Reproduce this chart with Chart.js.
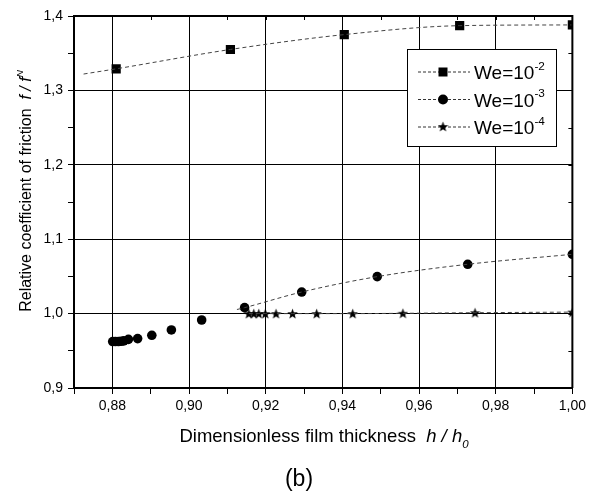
<!DOCTYPE html>
<html>
<head>
<meta charset="utf-8">
<script src="https://cdn.jsdelivr.net/npm/chart.js@4/dist/chart.umd.min.js"></script>
<style>
html, body { margin: 0; padding: 0; background: #fff; }
#wrap { position: relative; width: 590px; height: 493px; }
</style>
</head>
<body>
<div id="wrap"><canvas id="frictionChart" width="590" height="493"></canvas></div>
<script>
// We = 10^-2 : markers and the computed curve through them
const sqX = [0.881, 0.9108, 0.9405, 0.9706, 1.0];
const sqY = [1.329, 1.355, 1.375, 1.387, 1.388];
const sqCurveX = [0.8725, 0.881, 0.9108, 0.9405, 0.9706, 1.0];
const sqCurveY = [1.322, 1.329, 1.355, 1.375, 1.387, 1.388];

// We = 10^-3
const ciX = [0.8801, 0.8808, 0.8816, 0.8823, 0.883, 0.8842, 0.8866, 0.8903, 0.8954, 0.9033, 0.9145, 0.9294, 0.9491, 0.9727, 1.0];
const ciY = [0.9624, 0.9624, 0.9625, 0.9628, 0.9634, 0.9654, 0.9664, 0.9708, 0.978, 0.9914, 1.008, 1.029, 1.0497, 1.0663, 1.0797];
const ciCurveX = [0.9125, 0.9145, 0.9294, 0.9491, 0.9727, 1.0];
const ciCurveY = [1.0055, 1.008, 1.029, 1.0497, 1.0663, 1.0797];

// We = 10^-4
const stX = [0.9156, 0.9169, 0.9182, 0.9199, 0.9227, 0.927, 0.9333, 0.9427, 0.9558, 0.9746, 1.0];
const stY = [1.0, 1.0, 1.0, 1.0, 1.0, 1.0, 1.0, 1.0, 1.0004, 1.0012, 1.002];

const seriesBase = 'We=10';
const seriesExp = ['-2', '-3', '-4'];

const xMin = 0.87, xMax = 1.0, xStep = 0.01;
const yMin = 0.9, yMax = 1.4, yStep = 0.05;

const FONT = "'Liberation Sans', Arial, sans-serif";

function pts(xs, ys) {
    return xs.map((x, i) => ({ x: x, y: ys[i] }));
}

// filled five-point star used as point marker
function makeStar(size) {
    const c = document.createElement('canvas');
    c.width = size; c.height = size;
    const g = c.getContext('2d');
    const cx = size / 2, cy = size / 2 + 0.5, R = size / 2, r = R * 0.42;
    g.beginPath();
    for (let i = 0; i < 10; i++) {
        const rad = i % 2 === 0 ? R : r;
        const a = -Math.PI / 2 + i * Math.PI / 5;
        const px = cx + rad * Math.cos(a), py = cy + rad * Math.sin(a);
        if (i === 0) g.moveTo(px, py); else g.lineTo(px, py);
    }
    g.closePath();
    g.fillStyle = '#000';
    g.fill();
    return c;
}
const starImg = makeStar(11);

const isMajorX = v => Math.round(v * 100) % 2 === 0;
const isMajorY = v => Math.round(v * 100) % 10 === 0;

// mixed italic / super / subscript text on one baseline
function drawRich(ctx, parts, size, x, y, align) {
    let total = 0;
    parts.forEach(p => {
        const s = size * (p.sc || 1);
        p.font = (p.it ? 'italic ' : '') + s + 'px ' + FONT;
        ctx.font = p.font;
        p.w = ctx.measureText(p.t).width;
        total += p.w;
    });
    let cx = align === 'center' ? x - total / 2 : x;
    ctx.textAlign = 'left';
    ctx.textBaseline = 'alphabetic';
    parts.forEach(p => {
        ctx.font = p.font;
        ctx.fillText(p.t, cx, y + (p.dy || 0) * size);
        cx += p.w;
    });
}

const decorPlugin = {
    id: 'decor',
    afterDatasetsDraw(chart) {
        const ctx = chart.ctx;
        const a = chart.chartArea;
        const xs = chart.scales.x, ys = chart.scales.y;
        ctx.save();
        ctx.strokeStyle = '#000';
        // top and right frame
        ctx.lineWidth = 2;
        ctx.beginPath();
        ctx.moveTo(a.left, a.top);
        ctx.lineTo(a.right, a.top);
        ctx.lineTo(a.right, a.bottom);
        ctx.stroke();
        // inward ticks on top and right
        ctx.lineWidth = 1;
        ctx.beginPath();
        xs.ticks.forEach(t => {
            const px = Math.round(xs.getPixelForValue(t.value)) + 0.5;
            ctx.moveTo(px, a.top);
            ctx.lineTo(px, a.top + 4);
        });
        ys.ticks.forEach(t => {
            const py = Math.round(ys.getPixelForValue(t.value)) + 0.5;
            ctx.moveTo(a.right, py);
            ctx.lineTo(a.right - 4, py);
        });
        ctx.stroke();

        // legend box
        const bx = 407, by = 49, bw = 149, bh = 97;
        ctx.fillStyle = '#fff';
        ctx.fillRect(bx, by, bw, bh);
        ctx.lineWidth = 1;
        ctx.strokeRect(bx + 0.5, by + 0.5, bw, bh);
        const rows = [72, 99.5, 127];
        const markers = ['rect', 'circle', 'star'];
        rows.forEach((ry, i) => {
            ctx.save();
            ctx.strokeStyle = '#333';
            ctx.setLineDash([3, 2]);
            ctx.beginPath();
            ctx.moveTo(418, ry);
            ctx.lineTo(470, ry);
            ctx.stroke();
            ctx.restore();
            ctx.fillStyle = '#000';
            const mx = 443;
            if (markers[i] === 'rect') {
                ctx.fillRect(mx - 4.5, ry - 4.5, 9, 9);
            } else if (markers[i] === 'circle') {
                ctx.beginPath();
                ctx.arc(mx, ry, 5, 0, Math.PI * 2);
                ctx.fill();
            } else {
                ctx.drawImage(starImg, mx - 5.5, ry - 6);
            }
            drawRich(ctx, [
                { t: seriesBase },
                { t: seriesExp[i], sc: 0.62, dy: -0.5 }
            ], 19, 474, ry + 7, 'left');
        });

        // axis titles and panel label
        ctx.fillStyle = '#000';
        drawRich(ctx, [
            { t: 'Dimensionless film thickness  ' },
            { t: 'h', it: true },
            { t: ' / ', it: true },
            { t: 'h', it: true },
            { t: '0', it: true, sc: 0.62, dy: 0.3 }
        ], 18.5, 324, 442, 'center');

        ctx.save();
        ctx.translate(31, 191);
        ctx.rotate(-Math.PI / 2);
        drawRich(ctx, [
            { t: 'Relative coefficient of friction  ' },
            { t: 'f', it: true },
            { t: ' / ', it: true },
            { t: 'f', it: true },
            { t: 'N', it: true, sc: 0.62, dy: -0.5 }
        ], 16, 0, 0, 'center');
        ctx.restore();

        ctx.font = '23px ' + FONT;
        ctx.textAlign = 'center';
        ctx.fillText('(b)', 299, 486);
        ctx.restore();
    }
};

const curveStyle = {
    showLine: true,
    borderColor: '#444',
    borderWidth: 1,
    borderDash: [4, 3],
    pointRadius: 0,
    cubicInterpolationMode: 'monotone'
};

new Chart(document.getElementById('frictionChart'), {
    type: 'scatter',
    data: {
        datasets: [
            Object.assign({ data: pts(sqCurveX, sqCurveY) }, curveStyle),
            Object.assign({ data: pts(ciCurveX, ciCurveY) }, curveStyle),
            Object.assign({ data: pts(stX, stY) }, curveStyle),
            {
                label: seriesBase + seriesExp[0],
                data: pts(sqX, sqY),
                pointStyle: 'rect',
                pointRadius: 6.5,
                backgroundColor: '#000',
                borderColor: '#000',
                borderWidth: 0
            },
            {
                label: seriesBase + seriesExp[1],
                data: pts(ciX, ciY),
                pointStyle: 'circle',
                pointRadius: 4.8,
                backgroundColor: '#000',
                borderColor: '#000',
                borderWidth: 0
            },
            {
                label: seriesBase + seriesExp[2],
                data: pts(stX, stY),
                pointStyle: starImg,
                pointRadius: 5,
                backgroundColor: '#000',
                borderColor: '#000',
                borderWidth: 0
            }
        ]
    },
    options: {
        responsive: false,
        animation: false,
        events: [],
        layout: { padding: { top: 16, right: 15, left: 0, bottom: 0 } },
        plugins: { legend: { display: false }, tooltip: { enabled: false } },
        scales: {
            x: {
                type: 'linear',
                min: xMin, max: xMax,
                afterFit: s => { s.height = 105; },
                ticks: {
                    stepSize: xStep,
                    autoSkip: false,
                    maxRotation: 0,
                    padding: 4,
                    color: '#000',
                    font: { family: FONT, size: 14 },
                    callback: v => isMajorX(v) ? v.toFixed(2).replace('.', ',') : ''
                },
                grid: {
                    color: c => (c.tick && isMajorX(c.tick.value)) ? '#000' : 'rgba(0,0,0,0)',
                    tickColor: '#000',
                    tickLength: 6,
                    lineWidth: 1
                },
                border: { color: '#000', width: 2 }
            },
            y: {
                type: 'linear',
                min: yMin, max: yMax,
                afterFit: s => { s.width = 74; },
                ticks: {
                    stepSize: yStep,
                    autoSkip: false,
                    padding: 5,
                    color: '#000',
                    font: { family: FONT, size: 14 },
                    callback: v => isMajorY(v) ? v.toFixed(1).replace('.', ',') : ''
                },
                grid: {
                    color: c => (c.tick && isMajorY(c.tick.value)) ? '#000' : 'rgba(0,0,0,0)',
                    tickColor: '#000',
                    tickLength: 6,
                    lineWidth: 1
                },
                border: { color: '#000', width: 2 }
            }
        }
    },
    plugins: [decorPlugin]
});
</script>
</body>
</html>
